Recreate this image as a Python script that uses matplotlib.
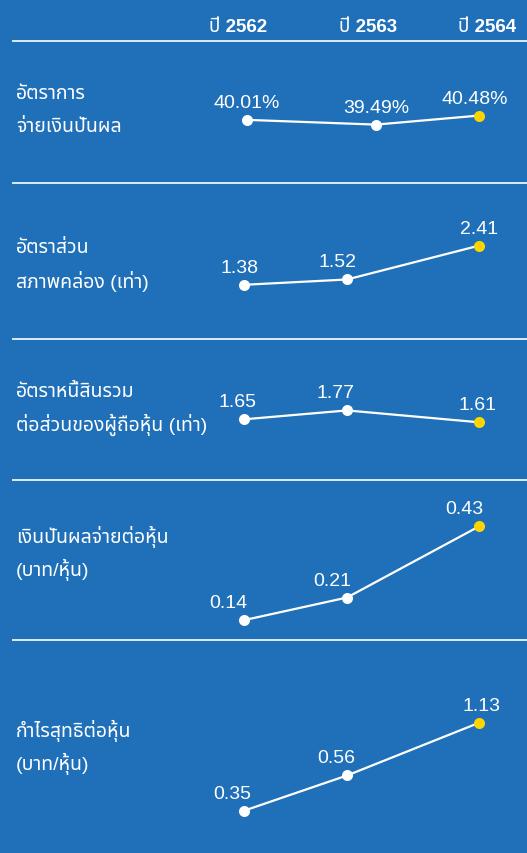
import matplotlib
matplotlib.use("Agg")
import matplotlib.pyplot as plt

# --- data ---
years = ["ปี 2562", "ปี 2563", "ปี 2564"]
row_titles = [
    ["อัตราการ", "จ่ายเงินปันผล"],
    ["อัตราส่วน", "สภาพคล่อง (เท่า)"],
    ["อัตราหนี้สินรวม", "ต่อส่วนของผู้ถือหุ้น (เท่า)"],
    ["เงินปันผลจ่ายต่อหุ้น", "(บาท/หุ้น)"],
    ["กำไรสุทธิต่อหุ้น", "(บาท/หุ้น)"],
]
payout_ratio = [40.01, 39.49, 40.48]
current_ratio = [1.38, 1.52, 2.41]
de_ratio = [1.65, 1.77, 1.61]
dps = [0.14, 0.21, 0.43]
eps = [0.35, 0.56, 1.13]
series = [payout_ratio, current_ratio, de_ratio, dps, eps]
fmts = ["{:.2f}%", "{:.2f}", "{:.2f}", "{:.2f}", "{:.2f}"]

# --- layout (pixels, figure is 527 x 854) ---
W, H = 527, 854
BG = "#1F70B8"
YELLOW = "#FFD500"
bands = [(42, 184), (184, 340), (340, 481), (481, 641), (641, 854)]
ylims = [(33.10, 48.64), (-0.045, 4.057), (0.8305, 2.7344), (0.0786, 0.5736), (0.1992, 3.409)]
yscales = ["linear", "linear", "linear", "linear", "log"]
xpos = [[247, 376, 479]] + [[244, 347, 479]] * 4
label_dx = [[0, 0, -4], [-5, -10, 0], [-7, -11, -1], [-16, -15, -15], [-12, -11, 2]]
title_base = [(99, 132), (253, 288), (397, 431), (543, 576), (737, 770)]
header_x = [238, 368, 487]

FONT = ["Liberation Sans", "Noto Sans Thai", "IBM Plex Sans Thai", "Prompt", "Kanit", "DejaVu Sans"]
plt.rcParams["font.family"] = FONT

fig = plt.figure(figsize=(W / 100, H / 100), dpi=100, facecolor=BG)

# background axes in pixel coordinates for text and rules
bg = fig.add_axes([0, 0, 1, 1])
bg.set_xlim(0, W)
bg.set_ylim(H, 0)
bg.set_facecolor(BG)
bg.axis("off")

for x, yr in zip(header_x, years):
    bg.text(x, 32, yr, color="white", fontsize=13.5, fontweight="bold",
            ha="center", va="baseline")

for y in [42] + [b[1] for b in bands[:-1]]:
    bg.plot([12, W], [y, y], color="white", lw=1.2, solid_capstyle="butt")

for (y1, y2), lines in zip(title_base, row_titles):
    bg.text(16, y1, lines[0], color="white", fontsize=14, va="baseline")
    bg.text(16, y2, lines[1], color="white", fontsize=14, va="baseline")

# one small axes per metric
for i, vals in enumerate(series):
    top, bot = bands[i]
    ax = fig.add_axes([0, 1 - bot / H, 1, (bot - top) / H])
    ax.patch.set_alpha(0)
    ax.axis("off")
    ax.set_yscale(yscales[i])
    ax.set_xlim(0, W)
    ax.set_ylim(*ylims[i])
    xs = xpos[i]
    ax.plot(xs, vals, color="white", lw=1.6, zorder=2, clip_on=False)
    ax.scatter(xs[:2], vals[:2], s=48, color="white", zorder=3, clip_on=False)
    ax.scatter(xs[2:], vals[2:], s=48, color=YELLOW, zorder=3, clip_on=False)
    for j, v in enumerate(vals):
        ax.annotate(fmts[i].format(v), (xs[j], v), xytext=(label_dx[i][j], 13),
                    textcoords="offset pixels", ha="center", va="baseline",
                    color="white", fontsize=14)

fig.savefig("out.png", dpi=100, facecolor=BG)
